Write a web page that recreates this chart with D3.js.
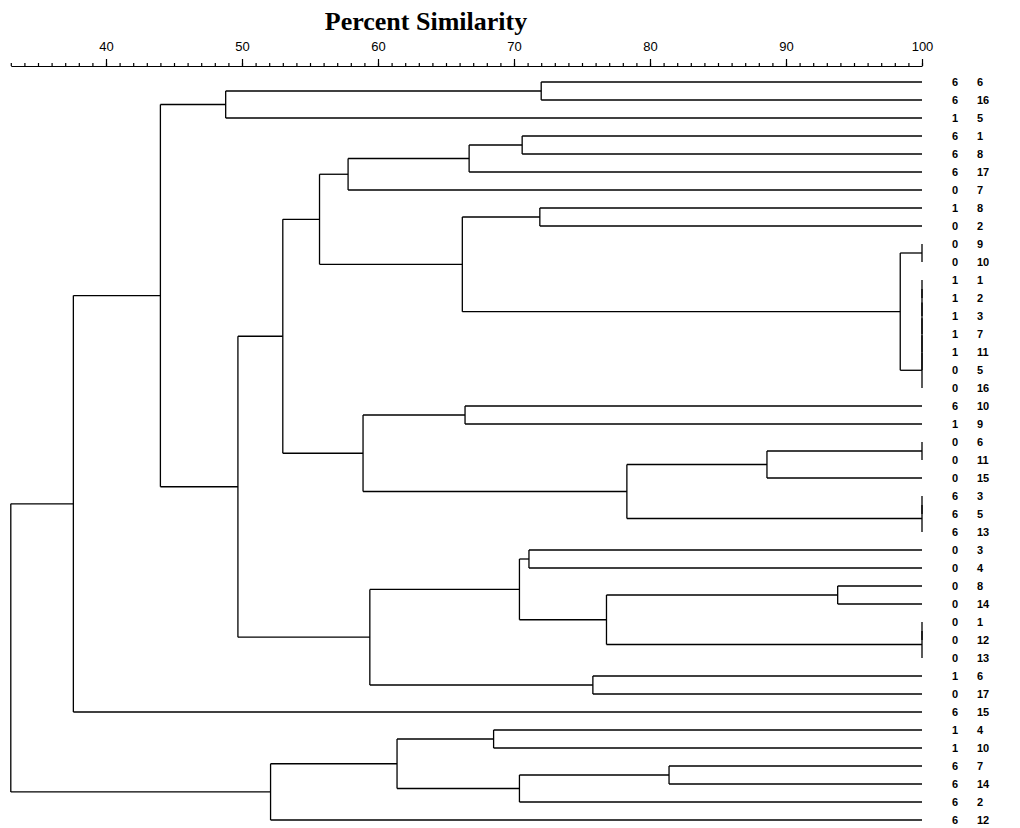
<!DOCTYPE html>
<html lang="en">
<head>
    <meta charset="UTF-8">
    <title>Percent Similarity dendrogram</title>
    <script src="https://d3js.org/d3.v7.min.js"></script>
    <style>
        body { margin: 0; background: #fff; }
        .title { font-family: "Liberation Serif", "Times New Roman", serif; font-weight: bold; font-size: 26px; }
        .axis text { font-family: "Liberation Sans", Arial, sans-serif; font-size: 13px; fill: #000; }
        .axis path, .axis line { stroke: #000; stroke-width: 1.2; }
        .leaf { font-family: "Liberation Sans", Arial, sans-serif; font-size: 11px; font-weight: bold; }
        .link { fill: none; stroke: #000; stroke-width: 1.3; }
    </style>
</head>
<body>
    <div id="chart"></div>

    <script>
        const width = 1020;
        const height = 828;

        // leaf labels, top to bottom
        const siteCodes = ["6","6","1","6","6","6","0","1","0","0","0","1","1","1","1","1","0","0",
                           "6","1","0","0","0","6","6","6","0","0","0","0","0","0","0","1","0","6",
                           "1","1","6","6","6","6"];
        const sampleIds = ["6","16","5","1","8","17","7","8","2","9","10","1","2","3","7","11","5","16",
                           "10","9","6","11","15","3","5","13","3","4","8","14","1","12","13","6","17","15",
                           "4","10","7","14","2","12"];

        // merges, hclust style: negative = leaf number, positive = earlier merge number
        const mergeLeft  = [-1, 1, -4, 3, 4, -8, -10, -12, 8, 9, 10, 11, 12, 7, 6, 5, -19, -21, 18, -24,
                            20, 19, 17, 16, -27, -29, -31, 27, 26, 25, -34, 30, 24, 2, 34, -37, -39, 37, 36, 39, 35];
        const mergeRight = [-2, -3, -5, -6, -7, -9, -11, -13, -14, -15, -16, -17, -18, 13, 14, 15, -20, -22, -23, -25,
                            -26, 21, 22, 23, -28, -30, -32, -33, 28, 29, -35, 31, 32, 33, -36, -38, -40, -41, 38, -42, 40];
        const mergeSimilarity = [72.0, 48.8, 70.6, 66.7, 57.8, 71.9, 100, 100, 100, 100, 100, 100, 100, 98.4, 66.2, 55.7,
                                 66.4, 100, 88.6, 100, 100, 78.3, 58.9, 53.0, 71.1, 93.8, 100, 100, 76.8, 70.4, 75.8,
                                 59.4, 49.7, 44.0, 37.6, 68.5, 81.4, 70.4, 61.4, 52.1, 33.0];

        const majorTicks = [40, 50, 60, 70, 80, 90, 100];

        const svg = d3.select("#chart")
            .append("svg")
            .attr("width", width)
            .attr("height", height);

        const x = d3.scaleLinear().domain([33, 100]).range([10.8, 922]);
        const y = d3.scalePoint().domain(d3.range(sampleIds.length)).range([82, 820]);

        // build tree from merges
        function makeNode(ref) {
            if (ref < 0) return { leaf: -ref - 1, sim: 100 };
            const i = ref - 1;
            return { sim: mergeSimilarity[i], children: [makeNode(mergeLeft[i]), makeNode(mergeRight[i])] };
        }
        const root = d3.hierarchy(makeNode(mergeLeft.length));

        root.eachAfter(d => {
            d.py = d.children ? d3.mean(d.children, c => c.py) : y(d.data.leaf);
            d.px = x(d.data.sim);
        });

        // title
        svg.append("text")
            .attr("class", "title")
            .attr("x", 426)
            .attr("y", 30)
            .attr("text-anchor", "middle")
            .text("Percent Similarity");

        // axis: minor ticks every unit, labelled ticks every 10
        svg.append("g")
            .attr("class", "axis")
            .attr("transform", "translate(0,66)")
            .call(d3.axisTop(x).tickValues(d3.range(33, 101)).tickSize(3).tickSizeOuter(0).tickFormat(""));

        const major = svg.append("g")
            .attr("class", "axis")
            .attr("transform", "translate(0,66)")
            .call(d3.axisTop(x).tickValues(majorTicks).tickSize(7).tickPadding(8));
        major.select(".domain").remove();

        // branches
        const g = svg.append("g");
        root.descendants().forEach(d => {
            if (d.parent) {
                g.append("path").attr("class", "link")
                    .attr("d", `M${d.parent.px},${d.py}H${d.px}`);
            }
            if (d.children) {
                g.append("path").attr("class", "link")
                    .attr("d", `M${d.px},${d.children[0].py}V${d.children[1].py}`);
            }
        });

        // leaf labels
        const labels = svg.append("g");
        root.leaves().forEach(d => {
            const i = d.data.leaf;
            labels.append("text").attr("class", "leaf")
                .attr("x", 955).attr("y", y(i)).attr("dy", "0.35em")
                .attr("text-anchor", "middle")
                .text(siteCodes[i]);
            labels.append("text").attr("class", "leaf")
                .attr("x", 977).attr("y", y(i)).attr("dy", "0.35em")
                .text(sampleIds[i]);
        });
    </script>
</body>
</html>
